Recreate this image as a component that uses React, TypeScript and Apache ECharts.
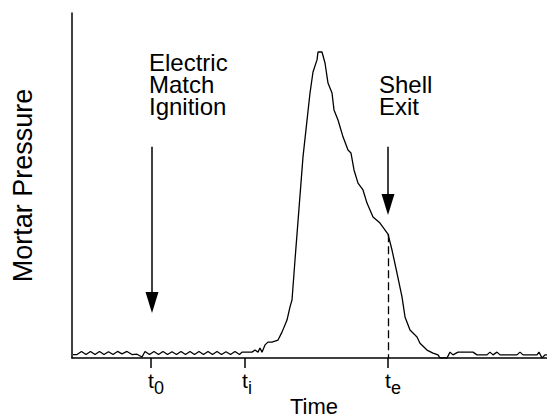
import React, { useEffect, useRef } from 'react';
import * as echarts from 'echarts';

// Time (arbitrary units) and mortar pressure (% of axis height)
const timeVals = [
  0.2, 1.0, 1.9, 2.8, 3.7, 4.6, 5.5, 6.4, 7.3, 8.2, 9.1, 10.0, 11.0, 12.0, 13.0, 14.0,
  14.6, 15.5, 16.4, 17.3, 18.2, 19.1, 20.0, 20.9, 21.8, 22.7, 23.6, 24.5, 25.4, 26.3,
  27.2, 28.1, 29.0, 29.9, 30.8, 31.7, 32.6, 33.5, 34.0, 36.0, 36.6, 37.2, 37.6, 38.0,
  38.6, 39.2, 40.0, 41.2, 42.0, 43.0, 43.6, 44.0, 44.6, 46.2, 47.6, 48.2, 49.0, 49.2,
  50.0, 50.6, 51.2, 52.0, 52.4, 53.2, 54.2, 55.2, 55.8, 56.4, 57.2, 58.2, 59.0, 60.2,
  61.6, 63.2, 64.0, 65.0, 66.0, 66.6, 67.6, 69.0, 69.6, 71.0, 72.2, 73.2, 73.6, 75.0,
  75.6, 76.2, 77.2, 80.2, 81.0, 83.0, 83.6, 84.2, 85.0, 85.6, 89.0, 89.6, 90.2, 93.0,
  93.4, 94.0, 94.6, 95.0,
];
const pressureVals = [
  1.0, 1.0, 1.9, 1.0, 1.9, 1.0, 1.9, 1.0, 1.8, 1.0, 1.9, 1.2, 1.9, 1.0, 1.1, 0.3,
  1.9, 1.0, 1.9, 1.0, 1.9, 1.0, 1.8, 1.0, 1.9, 1.0, 1.9, 1.0, 1.9, 1.0,
  1.9, 1.0, 1.9, 1.0, 1.8, 1.0, 1.9, 1.0, 1.7, 1.7, 2.3, 1.7, 2.9, 1.7,
  3.8, 4.6, 4.6, 5.2, 7.5, 11.0, 14.8, 16.8, 28.4, 58.3, 76.8, 82.9, 86.4, 88.7,
  88.7, 85.5, 79.7, 76.8, 71.9, 69.0, 64.1, 60.3, 59.4, 54.5, 50.7, 48.7, 44.9, 40.9,
  39.1, 35.9, 31.3, 24.6, 17.7, 11.9, 8.1, 6.1, 4.3, 2.3, 1.4, 0.9, 0.0, 0.0,
  1.7, 0.9, 1.7, 1.7, 0.9, 0.9, 1.7, 0.9, 1.7, 0.9, 0.9, 1.7, 0.9, 0.9,
  1.7, 0.0, 0.9, 0.9,
];

// Marked instants on the time axis: t0, ti, te
const markerTimes = [15.8, 34.6, 63.2];
const markerSubs = ['0', 'i', 'e'];

// Annotations
const ignitionTime = 16.0;
const exitTime = 63.2;
const exitPressure = 35.9;
const arrowStart = 61.2;
const arrowEnds = [16.1, 44.5];

const FONT = 'Liberation Sans, Arial, Helvetica, sans-serif';

export default function App() {
  const ref = useRef<HTMLDivElement>(null);

  useEffect(() => {
    const chart = echarts.init(ref.current as HTMLDivElement, null, { renderer: 'svg' });
    const data = timeVals.map((t, i) => [t, pressureVals[i]]);

    const subWidths: Record<string, number> = { '0': 10, i: 4, e: 10 };
    const rich: any = {
      t: { fontSize: 21, lineHeight: 21, verticalAlign: 'top', color: '#000', fontFamily: FONT },
    };
    markerSubs.forEach((s, i) => {
      rich['s' + i] = {
        fontSize: 18, lineHeight: 18, padding: [9, 0, 0, 0], verticalAlign: 'top',
        color: '#000', fontFamily: FONT,
      };
      rich['p' + i] = { width: subWidths[s], fontSize: 18, lineHeight: 18, verticalAlign: 'top' };
    });

    const arrowLine = { color: '#000', width: 1.5, type: 'solid' };

    chart.setOption({
      animation: false,
      backgroundColor: '#fff',
      grid: { left: 72, right: 0, top: 13, bottom: 62, containLabel: false, outerBoundsMode: 'none' },
      xAxis: {
        type: 'value',
        min: 0,
        max: 95,
        name: 'Time',
        nameLocation: 'middle',
        nameGap: 37,
        nameMoveOverlap: false,
        nameTextStyle: { fontSize: 22, fontFamily: FONT, color: '#000', padding: [0, 0, 0, 9] },
        axisLine: { show: true, onZero: false, lineStyle: { color: '#000', width: 1.5 } },
        axisTick: {
          show: true, customValues: markerTimes, length: 10, inside: false,
          lineStyle: { color: '#000', width: 1.5 },
        },
        axisLabel: {
          show: true,
          customValues: markerTimes,
          margin: 12,
          formatter: (v: number) => {
            const i = markerTimes.indexOf(v);
            if (i < 0) return '';
            return `{p${i}| }{t|t}{s${i}|${markerSubs[i]}}`;
          },
          rich,
        },
        splitLine: { show: false },
      },
      yAxis: {
        type: 'value',
        min: 0,
        max: 100,
        name: 'Mortar Pressure',
        nameLocation: 'middle',
        nameGap: 36,
        nameMoveOverlap: false,
        nameTextStyle: { fontSize: 27, fontFamily: FONT, color: '#000' },
        axisLine: { show: true, lineStyle: { color: '#000', width: 1.5 } },
        axisTick: { show: false },
        axisLabel: { show: false },
        splitLine: { show: false },
      },
      graphic: [
        {
          type: 'text', left: 149, top: 50, silent: true,
          style: { text: 'Electric\nMatch\nIgnition', fontSize: 24, lineHeight: 22, fontFamily: FONT, fill: '#000' },
        },
        {
          type: 'text', left: 379, top: 72, silent: true,
          style: { text: 'Shell\nExit', fontSize: 24, lineHeight: 22, fontFamily: FONT, fill: '#000' },
        },
      ],
      series: [
        {
          type: 'line',
          data,
          symbol: 'none',
          silent: true,
          lineStyle: { color: '#000', width: 1.3 },
          markLine: {
            silent: true,
            symbol: ['none', 'none'],
            label: { show: false },
            emphasis: { disabled: true },
            data: [
              [
                { coord: [exitTime, exitPressure], lineStyle: { color: '#000', width: 1.3, type: [8, 4] } },
                { coord: [exitTime, 0] },
              ],
              [
                { coord: [ignitionTime, arrowStart], lineStyle: arrowLine },
                { coord: [ignitionTime, arrowEnds[0]], symbol: 'triangle', symbolSize: [13, 21] },
              ],
              [
                { coord: [exitTime, arrowStart], lineStyle: arrowLine },
                { coord: [exitTime, arrowEnds[1]], symbol: 'triangle', symbolSize: [13, 21] },
              ],
            ],
          },
        },
      ],
    });

    return () => chart.dispose();
  }, []);

  return (
    <div
      ref={ref}
      style={{ position: 'fixed', left: 0, top: 0, width: 547, height: 420, background: '#fff' }}
    />
  );
}
